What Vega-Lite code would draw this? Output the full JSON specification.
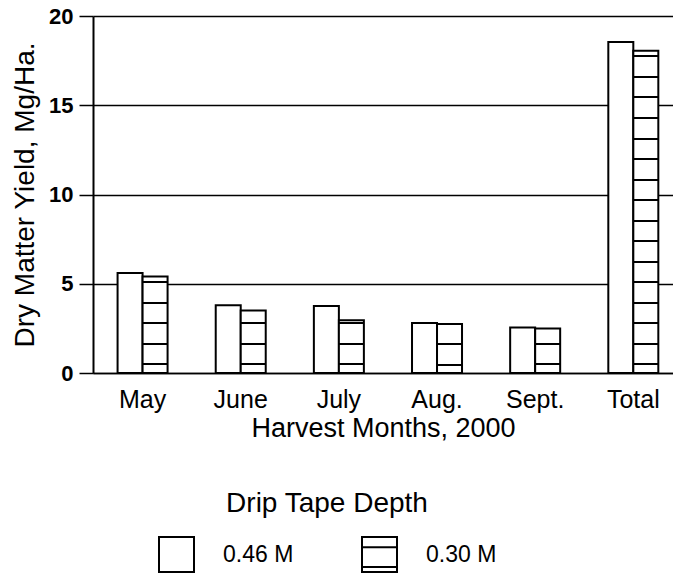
{
  "$schema": "https://vega.github.io/schema/vega-lite/v6.json",
  "autosize": "none",
  "width": 580,
  "height": 357,
  "padding": {"left": 93, "top": 16, "right": 0, "bottom": 202},
  "background": "white",
  "config": {
    "view": {"stroke": null},
    "font": "Liberation Sans",
    "axis": {"labelFont": "Liberation Sans", "titleFont": "Liberation Sans", "labelColor": "black", "titleColor": "black"},
    "legend": {"labelFont": "Liberation Sans", "titleFont": "Liberation Sans"}
  },
  "data": {
    "values": [
      {"month": "May", "depth": "0.46 M", "yield": 5.6},
      {"month": "May", "depth": "0.30 M", "yield": 5.4},
      {"month": "June", "depth": "0.46 M", "yield": 3.8},
      {"month": "June", "depth": "0.30 M", "yield": 3.5},
      {"month": "July", "depth": "0.46 M", "yield": 3.75},
      {"month": "July", "depth": "0.30 M", "yield": 2.95},
      {"month": "Aug.", "depth": "0.46 M", "yield": 2.8},
      {"month": "Aug.", "depth": "0.30 M", "yield": 2.75},
      {"month": "Sept.", "depth": "0.46 M", "yield": 2.55},
      {"month": "Sept.", "depth": "0.30 M", "yield": 2.5},
      {"month": "Total", "depth": "0.46 M", "yield": 18.55},
      {"month": "Total", "depth": "0.30 M", "yield": 18.05}
    ]
  },
  "encoding": {
    "x": {
      "field": "month", "type": "nominal",
      "sort": ["May", "June", "July", "Aug.", "Sept.", "Total"],
      "scale": {"paddingInner": 0.4905, "paddingOuter": 0.2, "align": 0.626},
      "axis": {
        "title": "Harvest Months, 2000", "labelAngle": 0, "ticks": false, "domain": true,
        "domainColor": "black", "domainWidth": 1.5,
        "labelFontSize": 25, "labelPadding": 14,
        "titleFontSize": 27, "titleFontWeight": "normal", "titlePadding": 3
      }
    },
    "xOffset": {"field": "depth", "type": "nominal", "sort": ["0.46 M", "0.30 M"]},
    "y": {
      "field": "yield", "type": "quantitative",
      "scale": {"domain": [0, 20], "nice": false},
      "axis": {
        "title": "Dry Matter Yield, Mg/Ha.", "values": [0, 5, 10, 15, 20],
        "grid": true, "gridColor": "black", "gridWidth": 1.5, "gridOpacity": 1,
        "domainColor": "black", "domainWidth": 2,
        "tickColor": "black", "tickSize": 14, "tickWidth": 1.5,
        "labelFontSize": 22, "labelFontWeight": "bold", "labelPadding": 6,
        "titleFontSize": 28, "titleFontWeight": "normal", "titlePadding": 9
      }
    }
  },
  "layer": [
    {
      "mark": {"type": "bar", "stroke": "black", "strokeWidth": 2},
      "encoding": {
        "fill": {
          "field": "depth", "type": "nominal", "sort": ["0.46 M", "0.30 M"],
          "scale": {"range": ["white", "white"]},
          "legend": null,
          "condition": [
            {"test": "datum.depth === '0.30 M' && datum.month === 'May'", "value": {"gradient": "linear", "x1": 0, "y1": 0, "x2": 0, "y2": 1, "stops": [
              {"offset": 0, "color": "white"},
              {"offset": 0.0488, "color": "white"}, {"offset": 0.0488, "color": "black"}, {"offset": 0.0696, "color": "black"}, {"offset": 0.0696, "color": "white"},
              {"offset": 0.2617, "color": "white"}, {"offset": 0.2617, "color": "black"}, {"offset": 0.2825, "color": "black"}, {"offset": 0.2825, "color": "white"},
              {"offset": 0.4745, "color": "white"}, {"offset": 0.4745, "color": "black"}, {"offset": 0.4953, "color": "black"}, {"offset": 0.4953, "color": "white"},
              {"offset": 0.6885, "color": "white"}, {"offset": 0.6885, "color": "black"}, {"offset": 0.7093, "color": "black"}, {"offset": 0.7093, "color": "white"},
              {"offset": 0.9013, "color": "white"}, {"offset": 0.9013, "color": "black"}, {"offset": 0.9221, "color": "black"}, {"offset": 0.9221, "color": "white"},
              {"offset": 1, "color": "white"}]}},
            {"test": "datum.depth === '0.30 M' && datum.month === 'June'", "value": {"gradient": "linear", "x1": 0, "y1": 0, "x2": 0, "y2": 1, "stops": [
              {"offset": 0, "color": "white"},
              {"offset": 0.1891, "color": "white"}, {"offset": 0.1891, "color": "black"}, {"offset": 0.2211, "color": "black"}, {"offset": 0.2211, "color": "white"},
              {"offset": 0.5193, "color": "white"}, {"offset": 0.5193, "color": "black"}, {"offset": 0.5513, "color": "black"}, {"offset": 0.5513, "color": "white"},
              {"offset": 0.8478, "color": "white"}, {"offset": 0.8478, "color": "black"}, {"offset": 0.8798, "color": "black"}, {"offset": 0.8798, "color": "white"},
              {"offset": 1, "color": "white"}]}},
            {"test": "datum.depth === '0.30 M' && datum.month === 'July'", "value": {"gradient": "linear", "x1": 0, "y1": 0, "x2": 0, "y2": 1, "stops": [
              {"offset": 0, "color": "white"},
              {"offset": 0.038, "color": "white"}, {"offset": 0.038, "color": "black"}, {"offset": 0.076, "color": "black"}, {"offset": 0.076, "color": "white"},
              {"offset": 0.4297, "color": "white"}, {"offset": 0.4297, "color": "black"}, {"offset": 0.4677, "color": "black"}, {"offset": 0.4677, "color": "white"},
              {"offset": 0.8194, "color": "white"}, {"offset": 0.8194, "color": "black"}, {"offset": 0.8574, "color": "black"}, {"offset": 0.8574, "color": "white"},
              {"offset": 1, "color": "white"}]}},
            {"test": "datum.depth === '0.30 M' && datum.month === 'Aug.'", "value": {"gradient": "linear", "x1": 0, "y1": 0, "x2": 0, "y2": 1, "stops": [
              {"offset": 0, "color": "white"},
              {"offset": 0.389, "color": "white"}, {"offset": 0.389, "color": "black"}, {"offset": 0.4298, "color": "black"}, {"offset": 0.4298, "color": "white"},
              {"offset": 0.8065, "color": "white"}, {"offset": 0.8065, "color": "black"}, {"offset": 0.8473, "color": "black"}, {"offset": 0.8473, "color": "white"},
              {"offset": 1, "color": "white"}]}},
            {"test": "datum.depth === '0.30 M' && datum.month === 'Sept.'", "value": {"gradient": "linear", "x1": 0, "y1": 0, "x2": 0, "y2": 1, "stops": [
              {"offset": 0, "color": "white"},
              {"offset": 0.3274, "color": "white"}, {"offset": 0.3274, "color": "black"}, {"offset": 0.3722, "color": "black"}, {"offset": 0.3722, "color": "white"},
              {"offset": 0.787, "color": "white"}, {"offset": 0.787, "color": "black"}, {"offset": 0.8318, "color": "black"}, {"offset": 0.8318, "color": "white"},
              {"offset": 1, "color": "white"}]}},
            {"test": "datum.depth === '0.30 M' && datum.month === 'Total'", "value": {"gradient": "linear", "x1": 0, "y1": 0, "x2": 0, "y2": 1, "stops": [
              {"offset": 0, "color": "white"},
              {"offset": 0.0141, "color": "white"}, {"offset": 0.0141, "color": "black"}, {"offset": 0.0203, "color": "black"}, {"offset": 0.0203, "color": "white"},
              {"offset": 0.0779, "color": "white"}, {"offset": 0.0779, "color": "black"}, {"offset": 0.0841, "color": "black"}, {"offset": 0.0841, "color": "white"},
              {"offset": 0.1417, "color": "white"}, {"offset": 0.1417, "color": "black"}, {"offset": 0.1479, "color": "black"}, {"offset": 0.1479, "color": "white"},
              {"offset": 0.2054, "color": "white"}, {"offset": 0.2054, "color": "black"}, {"offset": 0.2116, "color": "black"}, {"offset": 0.2116, "color": "white"},
              {"offset": 0.2692, "color": "white"}, {"offset": 0.2692, "color": "black"}, {"offset": 0.2754, "color": "black"}, {"offset": 0.2754, "color": "white"},
              {"offset": 0.3329, "color": "white"}, {"offset": 0.3329, "color": "black"}, {"offset": 0.3391, "color": "black"}, {"offset": 0.3391, "color": "white"},
              {"offset": 0.3967, "color": "white"}, {"offset": 0.3967, "color": "black"}, {"offset": 0.4029, "color": "black"}, {"offset": 0.4029, "color": "white"},
              {"offset": 0.4604, "color": "white"}, {"offset": 0.4604, "color": "black"}, {"offset": 0.4666, "color": "black"}, {"offset": 0.4666, "color": "white"},
              {"offset": 0.5242, "color": "white"}, {"offset": 0.5242, "color": "black"}, {"offset": 0.5304, "color": "black"}, {"offset": 0.5304, "color": "white"},
              {"offset": 0.588, "color": "white"}, {"offset": 0.588, "color": "black"}, {"offset": 0.5942, "color": "black"}, {"offset": 0.5942, "color": "white"},
              {"offset": 0.6517, "color": "white"}, {"offset": 0.6517, "color": "black"}, {"offset": 0.6579, "color": "black"}, {"offset": 0.6579, "color": "white"},
              {"offset": 0.7155, "color": "white"}, {"offset": 0.7155, "color": "black"}, {"offset": 0.7217, "color": "black"}, {"offset": 0.7217, "color": "white"},
              {"offset": 0.7792, "color": "white"}, {"offset": 0.7792, "color": "black"}, {"offset": 0.7854, "color": "black"}, {"offset": 0.7854, "color": "white"},
              {"offset": 0.843, "color": "white"}, {"offset": 0.843, "color": "black"}, {"offset": 0.8492, "color": "black"}, {"offset": 0.8492, "color": "white"},
              {"offset": 0.9067, "color": "white"}, {"offset": 0.9067, "color": "black"}, {"offset": 0.9129, "color": "black"}, {"offset": 0.9129, "color": "white"},
              {"offset": 0.9705, "color": "white"}, {"offset": 0.9705, "color": "black"}, {"offset": 0.9767, "color": "black"}, {"offset": 0.9767, "color": "white"},
              {"offset": 1, "color": "white"}]}}
          ]
        }
      }
    },
    {
      "mark": {"type": "point", "filled": false, "opacity": 0, "stroke": "black"},
      "encoding": {
        "shape": {
          "field": "depth", "type": "nominal", "sort": ["0.46 M", "0.30 M"],
          "scale": {"domain": ["0.46 M", "0.30 M"], "range": ["square", "M-1,-1H1V1H-1Z M-1,-0.42H1 M-1,0.72H1"]},
          "legend": {
            "title": "Drip Tape Depth",
            "orient": "none", "legendX": 65, "legendY": 474,
            "direction": "horizontal",
            "titleAnchor": "middle", "titleFontSize": 28, "titleFontWeight": "normal", "titleColor": "black", "titlePadding": 18, "titleLimit": 500,
            "labelFontSize": 23, "labelColor": "black", "labelOffset": 28, "labelLimit": 300,
            "symbolSize": 1225, "symbolStrokeColor": "black", "symbolStrokeWidth": 2, "symbolFillColor": "white", "symbolOpacity": 1,
            "columnPadding": 64
          }
        }
      }
    }
  ]
}
